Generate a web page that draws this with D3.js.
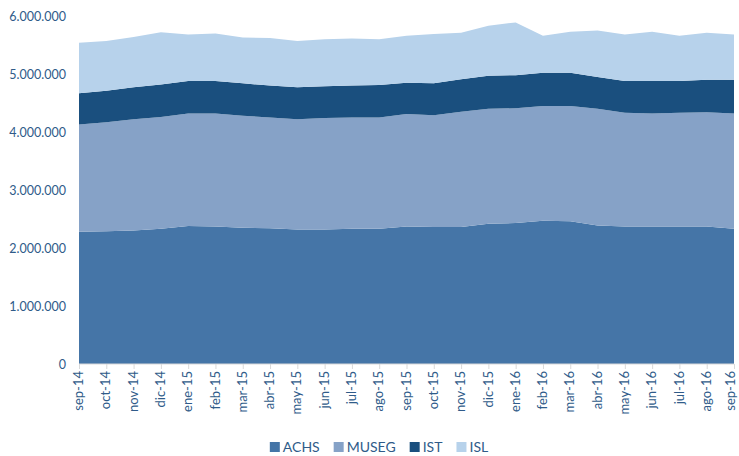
<!DOCTYPE html>
<html>
<head>
<meta charset="utf-8">
<script src="https://cdn.jsdelivr.net/npm/d3@7"></script>
<style>
  html, body { margin: 0; padding: 0; background: #fff; }
  svg { display: block; }
  text { font-family: Lato, "Open Sans", sans-serif; fill: #2f5b89; }
</style>
</head>
<body>
<svg id="chart" width="739" height="456"></svg>
<script>
const months = ["sep-14","oct-14","nov-14","dic-14","ene-15","feb-15","mar-15","abr-15","may-15","jun-15","jul-15","ago-15",
  "sep-15","oct-15","nov-15","dic-15","ene-16","feb-16","mar-16","abr-16","may-16","jun-16","jul-16","ago-16","sep-16"];
const seriesNames = ["ACHS","MUSEG","IST","ISL"];
const ACHS  = [2280000,2290000,2300000,2330000,2380000,2370000,2350000,2340000,2320000,2320000,2330000,2330000,
               2370000,2360000,2360000,2420000,2430000,2470000,2460000,2390000,2370000,2370000,2370000,2370000,2330000];
const MUSEG = [1850000,1880000,1920000,1930000,1940000,1950000,1930000,1910000,1900000,1920000,1920000,1920000,
               1940000,1930000,1990000,1980000,1980000,1980000,1990000,2010000,1960000,1950000,1960000,1970000,1990000];
const IST   = [540000,540000,550000,560000,560000,560000,560000,550000,550000,550000,550000,560000,
               540000,550000,560000,570000,570000,570000,570000,550000,550000,560000,550000,560000,580000];
const ISL   = [870000,860000,870000,900000,800000,820000,790000,820000,800000,810000,810000,790000,
               810000,850000,800000,860000,910000,640000,710000,800000,800000,850000,780000,810000,780000];
const yTicks = [0,1000000,2000000,3000000,4000000,5000000,6000000];
const colors = ["#4575a7","#86a2c7","#1a4f7e","#b7d2eb"];

const table = months.map((m,i) => ({month:m, ACHS:ACHS[i], MUSEG:MUSEG[i], IST:IST[i], ISL:ISL[i]}));

const svg = d3.select("#chart");
const x = d3.scalePoint().domain(months).range([79, 734]);
const y = d3.scaleLinear().domain([0, 6000000]).range([364, 16]);

const loc = d3.formatLocale({decimal:",", thousands:".", grouping:[3], currency:["$",""]});
const fmt = loc.format(",d");

const stacked = d3.stack().keys(seriesNames)(table);
const area = d3.area()
  .x(d => x(d.data.month))
  .y0(d => y(d[0]))
  .y1(d => y(d[1]));

svg.append("g").selectAll("path")
  .data(stacked)
  .join("path")
  .attr("d", area)
  .attr("fill", (d,i) => colors[i]);

// y axis labels
const yAxis = svg.append("g").attr("transform","translate(66,0)")
  .call(d3.axisLeft(y).tickValues(yTicks).tickFormat(fmt).tickSize(0).tickPadding(0));
yAxis.select(".domain").remove();
yAxis.selectAll("text").style("font-size","12.5px").attr("fill","#2f5b89");

// x axis
const xAxis = svg.append("g").attr("transform","translate(0,364)")
  .call(d3.axisBottom(x).tickSize(5).tickPadding(0));
xAxis.select(".domain").attr("stroke","#d9d9d9").attr("d","M79,0H734");
xAxis.selectAll(".tick line").attr("stroke","#d9d9d9");
xAxis.selectAll("text")
  .style("font-size","13px")
  .attr("fill","#2f5b89")
  .attr("text-anchor","end")
  .attr("transform","rotate(-90)")
  .attr("x", -7)
  .attr("y", 0)
  .attr("dy", (d,i) => i === months.length - 1 ? "0.05em" : "0.28em");

// legend
const legend = svg.append("g");
let lx = 0;
seriesNames.forEach((name,i) => {
  const g = legend.append("g");
  g.append("rect").attr("x", lx).attr("y", -10).attr("width",10).attr("height",10).attr("fill", colors[i]);
  const t = g.append("text").attr("x", lx + 13).attr("y", 0).text(name).style("font-size","14px");
  const w = t.node().getComputedTextLength();
  lx += 13 + w + 14;
});
const totalW = lx - 14;
legend.attr("transform", `translate(${379 - totalW/2},452)`);
</script>
</body>
</html>
